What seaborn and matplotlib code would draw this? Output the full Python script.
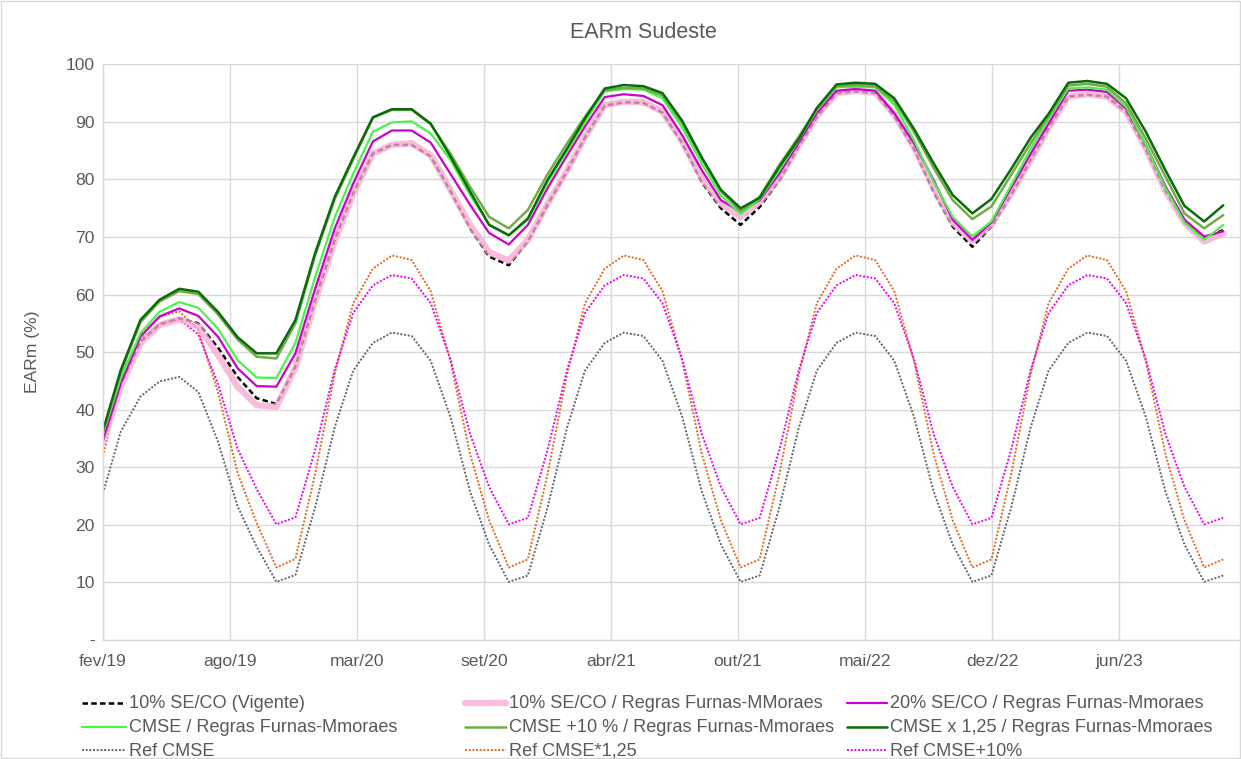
import matplotlib
matplotlib.use("Agg")
import matplotlib.pyplot as plt
import matplotlib.patches as mpatches
from matplotlib.lines import Line2D
import seaborn as sns
import pandas as pd

# ---------------- data ----------------
dates = pd.date_range("2019-02-01", periods=59, freq="MS")

vigente_10 = [35.0, 44.5, 51.8, 54.8, 55.9, 55.0, 50.8, 45.7, 42.0, 41.0, 47.5, 59.0,
              69.5, 77.6, 84.5, 86.0, 86.0, 84.0, 78.0, 71.5, 66.6, 65.1, 69.2, 75.6,
              81.5, 87.3, 92.8, 93.4, 93.3, 91.6, 86.3, 79.5, 75.0, 72.1, 75.2, 79.8,
              85.8, 90.8, 95.0, 95.3, 95.0, 91.0, 85.3, 77.8, 71.8, 68.3, 71.8, 77.3,
              83.4, 88.9, 94.4, 94.7, 94.4, 91.7, 85.3, 78.0, 72.8, 69.8, 71.2]
furnas_10 = [34.5, 44.0, 51.6, 54.7, 55.7, 54.5, 49.5, 44.0, 40.8, 40.5, 47.3, 58.8,
             69.3, 77.5, 84.5, 86.0, 86.3, 84.2, 78.2, 72.1, 67.4, 65.9, 69.5, 75.8,
             81.6, 87.4, 92.9, 93.5, 93.4, 91.8, 86.6, 80.2, 75.8, 73.5, 76.1, 80.2,
             86.0, 91.0, 95.0, 95.4, 95.1, 91.3, 85.6, 78.5, 72.5, 69.3, 72.2, 77.5,
             83.4, 88.9, 94.4, 94.8, 94.4, 91.8, 85.4, 78.0, 72.5, 69.2, 70.6]
furnas_20 = [34.7, 44.6, 52.7, 56.2, 57.6, 56.3, 52.7, 47.2, 44.1, 44.0, 49.8, 61.0,
             71.5, 79.3, 86.6, 88.5, 88.5, 86.4, 81.0, 75.6, 70.7, 68.7, 72.1, 78.5,
             84.2, 89.2, 94.3, 94.8, 94.5, 92.9, 87.7, 81.6, 76.4, 74.4, 76.4, 81.0,
             86.5, 91.5, 95.4, 95.7, 95.4, 91.5, 86.3, 79.9, 73.0, 69.5, 72.5, 78.5,
             84.5, 89.7, 95.4, 95.6, 95.2, 92.3, 86.0, 78.8, 73.0, 70.1, 71.0]
cmse = [35.8, 45.5, 53.3, 57.0, 58.7, 57.7, 54.1, 48.6, 45.6, 45.5, 51.6, 63.0,
        73.5, 81.0, 88.3, 89.9, 90.1, 88.0, 83.4, 77.3, 72.2, 70.3, 73.0, 79.5,
        85.0, 90.0, 95.3, 95.7, 95.6, 94.1, 89.0, 82.7, 77.2, 74.0, 76.6, 81.6,
        87.0, 92.0, 96.0, 96.1, 96.0, 93.0, 86.8, 79.6, 73.5, 70.1, 72.7, 79.0,
        85.4, 90.5, 95.8, 96.0, 95.6, 92.6, 86.0, 78.5, 72.5, 69.5, 72.1]
cmse_p10 = [36.0, 46.5, 55.2, 58.8, 60.6, 60.1, 56.6, 52.2, 49.2, 48.9, 55.0, 66.8,
            76.6, 83.5, 90.7, 92.1, 92.1, 89.6, 84.5, 78.7, 73.5, 71.5, 74.7, 80.9,
            86.3, 90.9, 95.5, 95.9, 95.8, 94.6, 89.8, 83.6, 78.0, 74.5, 77.0, 82.5,
            87.5, 92.2, 96.2, 96.4, 96.2, 93.6, 88.3, 82.0, 76.4, 73.1, 75.3, 80.8,
            86.3, 91.0, 96.3, 96.6, 96.1, 93.2, 87.1, 80.5, 74.1, 71.5, 73.8]
cmse_x125 = [36.4, 46.9, 55.6, 59.1, 61.0, 60.5, 57.0, 52.6, 49.8, 49.8, 55.6, 67.2,
             77.0, 83.8, 90.8, 92.2, 92.2, 89.7, 84.0, 77.9, 72.1, 70.3, 73.2, 79.9,
             85.4, 90.6, 95.8, 96.4, 96.2, 95.0, 90.2, 83.8, 78.2, 75.0, 76.8, 82.2,
             87.1, 92.4, 96.5, 96.8, 96.6, 94.1, 88.8, 82.8, 77.3, 74.1, 76.6, 81.8,
             87.3, 91.4, 96.8, 97.1, 96.6, 94.1, 88.3, 81.6, 75.4, 72.7, 75.5]
ref_cmse = [25.5, 36.2, 42.3, 44.9, 45.7, 43.1, 34.5, 23.2, 16.2, 10.1, 11.3, 23.0,
            37.0, 46.8, 51.6, 53.4, 52.8, 48.5, 38.8, 25.8, 16.6, 10.1, 11.2, 23.0,
            37.0, 46.8, 51.6, 53.4, 52.8, 48.5, 38.8, 25.8, 16.6, 10.1, 11.2, 23.0,
            37.0, 46.8, 51.6, 53.4, 52.8, 48.5, 38.8, 25.8, 16.6, 10.1, 11.2, 23.0,
            37.0, 46.8, 51.6, 53.4, 52.8, 48.5, 38.8, 25.8, 16.6, 10.1, 11.2]
ref_cmse_125 = [31.9, 45.3, 52.9, 56.1, 57.1, 53.9, 43.1, 29.0, 20.3, 12.6, 14.1, 28.8,
                46.3, 58.5, 64.5, 66.8, 66.0, 60.6, 48.5, 32.3, 20.8, 12.6, 14.0, 28.8,
                46.3, 58.5, 64.5, 66.8, 66.0, 60.6, 48.5, 32.3, 20.8, 12.6, 14.0, 28.8,
                46.3, 58.5, 64.5, 66.8, 66.0, 60.6, 48.5, 32.3, 20.8, 12.6, 14.0, 28.8,
                46.3, 58.5, 64.5, 66.8, 66.0, 60.6, 48.5, 32.3, 20.8, 12.6, 14.0]
ref_cmse_10 = [35.5, 46.2, 52.3, 54.9, 55.7, 53.1, 44.5, 33.2, 26.2, 20.1, 21.3, 33.0,
               47.0, 56.8, 61.6, 63.4, 62.8, 58.5, 48.8, 35.8, 26.6, 20.1, 21.2, 33.0,
               47.0, 56.8, 61.6, 63.4, 62.8, 58.5, 48.8, 35.8, 26.6, 20.1, 21.2, 33.0,
               47.0, 56.8, 61.6, 63.4, 62.8, 58.5, 48.8, 35.8, 26.6, 20.1, 21.2, 33.0,
               47.0, 56.8, 61.6, 63.4, 62.8, 58.5, 48.8, 35.8, 26.6, 20.1, 21.2]

x_tick_labels = ["fev/19", "ago/19", "mar/20", "set/20", "abr/21",
                 "out/21", "mai/22", "dez/22", "jun/23"]
y_ticks = [0, 10, 20, 30, 40, 50, 60, 70, 80, 90, 100]
y_tick_labels = ["-", "10", "20", "30", "40", "50", "60", "70", "80", "90", "100"]

title = "EARm Sudeste"
y_label = "EARm (%)"

# ---------------- style ----------------
sns.set_theme(style="white")
plt.rcParams["font.family"] = ["Liberation Sans", "DejaVu Sans"]
TXT = "#595959"
GRID = "#D9D9D9"

fig = plt.figure(figsize=(12.41, 7.59), dpi=100)
W, H = 1241, 759
fig.patches.append(mpatches.Rectangle((0.0008, 0.0013), 0.998, 0.997, transform=fig.transFigure,
                                      fill=False, edgecolor=GRID, lw=1.0))
ax = fig.add_axes([103 / W, 1 - 640 / H, (W - 103) / W, (640 - 64.3) / H])

series = [
    (ref_cmse, "Ref CMSE", dict(color="#666666", lw=1.4, dashes=(1, 0.9))),
    (ref_cmse_125, "Ref CMSE*1,25", dict(color="#E2691E", lw=1.4, dashes=(1, 0.9))),
    (ref_cmse_10, "Ref CMSE+10%", dict(color="#F000F0", lw=1.4, dashes=(1, 0.9))),
    (vigente_10, "10% SE/CO (Vigente)", dict(color="#000000", lw=1.8, dashes=(2.2, 1.3))),
    (furnas_10, "10% SE/CO / Regras Furnas-MMoraes", dict(color="#F9A9D3", lw=4.6, alpha=0.78)),
    (furnas_20, "20% SE/CO / Regras Furnas-Mmoraes", dict(color="#CC00CC", lw=1.6)),
    (cmse, "CMSE / Regras Furnas-Mmoraes", dict(color="#48F448", lw=1.6)),
    (cmse_p10, "CMSE +10 % / Regras Furnas-Mmoraes", dict(color="#70AD47", lw=1.8)),
    (cmse_x125, "CMSE x 1,25 / Regras Furnas-Mmoraes", dict(color="#0B6B0B", lw=1.8)),
]
styles = {}
for vals, name, kw in series:
    sns.lineplot(x=dates, y=vals, ax=ax, **kw)
    styles[name] = kw

ax.set_ylim(0, 100)
ax.set_xlim(pd.Timestamp("2019-02-01"), pd.Timestamp("2023-12-29"))
tick_pos = [pd.Timestamp("2019-02-01") + pd.Timedelta(days=200 * k) for k in range(len(x_tick_labels))]
ax.set_xticks(tick_pos)
ax.set_xticklabels(x_tick_labels)
ax.set_yticks(y_ticks)
ax.set_yticklabels(y_tick_labels)
ax.tick_params(axis="both", length=0, labelsize=12.6, labelcolor=TXT)
ax.tick_params(axis="y", pad=6)
ax.tick_params(axis="x", pad=10)
ax.grid(True, color=GRID, lw=1.0)
ax.set_axisbelow(True)
for s in ["top", "right"]:
    ax.spines[s].set_visible(False)
for s in ["left", "bottom"]:
    ax.spines[s].set_color(GRID)
    ax.spines[s].set_linewidth(1.0)
ax.set_xlabel("")
ax.set_ylabel("")

fig.text(643 / W, 1 - 32 / H, title, ha="center", va="center", fontsize=15.5, color=TXT)
fig.text(33 / W, 1 - 352 / H, y_label, ha="center", va="center", rotation=90, fontsize=12.6, color=TXT)

# legend: entries laid out in a 3x3 grid (row-major order as in the reference)
legend_rows = [
    ["10% SE/CO (Vigente)", "10% SE/CO / Regras Furnas-MMoraes", "20% SE/CO / Regras Furnas-Mmoraes"],
    ["CMSE / Regras Furnas-Mmoraes", "CMSE +10 % / Regras Furnas-Mmoraes", "CMSE x 1,25 / Regras Furnas-Mmoraes"],
    ["Ref CMSE", "Ref CMSE*1,25", "Ref CMSE+10%"],
]
row_y = [703, 727, 750]
col_line = [(82, 126), (465, 506), (847, 887)]
for ry, names in zip(row_y, legend_rows):
    for (x0, x1), name in zip(col_line, names):
        kw = dict(styles[name])
        ln = Line2D([x0 / W, x1 / W], [1 - ry / H, 1 - ry / H], transform=fig.transFigure, **kw)
        fig.add_artist(ln)
        fig.text((x1 + 3) / W, 1 - (ry + 1) / H, name, ha="left", va="center",
                 fontsize=13.1, color=TXT)

fig.savefig("out.png", dpi=100)
